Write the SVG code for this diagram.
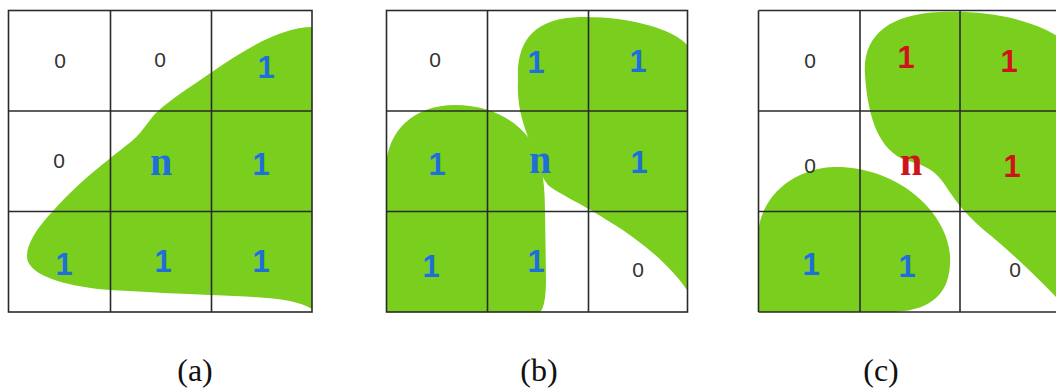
<svg xmlns="http://www.w3.org/2000/svg" width="1056" height="389" viewBox="0 0 1056 389">
<style>
.blob{fill:#7acf1e;stroke:none}
.grid{fill:none;stroke:#2a2a2a;stroke-width:1.6}
.z{font-family:"Liberation Sans",Arial,sans-serif;font-size:21px;fill:#333;text-anchor:middle}
.o{font-family:"Liberation Sans",Arial,sans-serif;font-size:31px;font-weight:bold;fill:#1e6fd9;text-anchor:middle}
.n{font-family:"Liberation Serif","Times New Roman",serif;font-size:40px;font-weight:bold;fill:#1e6fd9;text-anchor:middle}
text.r{fill:#d0131a}
.cap{font-family:"Liberation Serif","Times New Roman",serif;font-size:32px;fill:#111;text-anchor:middle}
</style>
<rect width="1056" height="389" fill="#fff"/>

<g id="panel-a">
  <path class="blob" d="M312,27 C285,27 250,45 212,72 C190,87 170,100 158,111 C150,118 142,133 133,140 C115,155 80,180 53,211 C30,235 22,255 30,265 C40,280 80,288 110,290 C150,292 180,294 211,295 C260,297 295,298 312,309 Z"/>
  <g class="grid">
    <rect x="8.5" y="10.5" width="303.5" height="301.5"/>
    <line x1="110.5" y1="10.5" x2="110.5" y2="312"/>
    <line x1="211.5" y1="10.5" x2="211.5" y2="312"/>
    <line x1="8.5" y1="111" x2="312" y2="111"/>
    <line x1="8.5" y1="211.5" x2="312" y2="211.5"/>
  </g>
  <text class="z" x="60" y="68">0</text>
  <text class="z" x="160" y="67">0</text>
  <text class="o" x="266" y="78">1</text>
  <text class="z" x="59" y="168">0</text>
  <text class="n" x="161" y="175">n</text>
  <text class="o" x="261" y="175">1</text>
  <text class="o" x="64" y="275">1</text>
  <text class="o" x="163" y="272">1</text>
  <text class="o" x="261" y="272">1</text>
</g>

<g id="panel-b">
  <path class="blob" d="M386,312 L386,170 C386,130 415,105 455,105 C490,105 515,120 528,137 C540,155 545,175 545,210 L546,280 C546,300 543,310 540,312 Z"/>
  <path class="blob" d="M518,80 C516,40 535,18 580,17 C630,16 675,30 687,45 L687,290 C670,265 640,240 610,222 C585,205 560,195 548,185 C540,175 535,160 528,137 C520,115 517,100 518,80 Z"/>
  <g class="grid">
    <rect x="386.5" y="10.5" width="301" height="301.5"/>
    <line x1="487.5" y1="10.5" x2="487.5" y2="312"/>
    <line x1="588.5" y1="10.5" x2="588.5" y2="312"/>
    <line x1="386.5" y1="111" x2="687.5" y2="111"/>
    <line x1="386.5" y1="211.5" x2="687.5" y2="211.5"/>
  </g>
  <text class="z" x="435" y="67">0</text>
  <text class="o" x="536" y="73">1</text>
  <text class="o" x="638" y="72">1</text>
  <text class="o" x="437" y="175">1</text>
  <text class="n" x="540" y="173">n</text>
  <text class="o" x="639" y="173">1</text>
  <text class="o" x="431" y="277">1</text>
  <text class="o" x="536" y="272">1</text>
  <text class="z" x="638" y="277">0</text>
</g>

<g id="panel-c">
  <path class="blob" d="M758,312 L758,235 C760,195 795,168 835,167 C890,166 945,205 950,255 C952,290 935,310 895,312 Z"/>
  <path class="blob" d="M865,75 C862,35 890,14 940,12 C990,10 1040,20 1070,45 L1070,312 C1050,290 1020,260 990,235 C965,215 955,200 945,185 C935,170 925,165 905,160 C880,150 868,120 865,75 Z"/>
  <g class="grid">
    <line x1="758.5" y1="10.5" x2="1056" y2="10.5"/>
    <line x1="758.5" y1="111" x2="1056" y2="111"/>
    <line x1="758.5" y1="211.5" x2="1056" y2="211.5"/>
    <line x1="758.5" y1="312" x2="1056" y2="312"/>
    <line x1="758.5" y1="10.5" x2="758.5" y2="312"/>
    <line x1="860" y1="10.5" x2="860" y2="312"/>
    <line x1="960" y1="10.5" x2="960" y2="312"/>
  </g>
  <text class="z" x="810" y="68">0</text>
  <text class="o r" x="906" y="68">1</text>
  <text class="o r" x="1009" y="72">1</text>
  <text class="z" x="810" y="173">0</text>
  <text class="n r" x="911" y="175">n</text>
  <text class="o r" x="1012" y="177">1</text>
  <text class="o" x="811" y="275">1</text>
  <text class="o" x="907" y="277">1</text>
  <text class="z" x="1015" y="277">0</text>
</g>

<g id="captions">
  <text class="cap" x="195" y="381">(a)</text>
  <text class="cap" x="539" y="381">(b)</text>
  <text class="cap" x="881" y="381">(c)</text>
</g>
</svg>
